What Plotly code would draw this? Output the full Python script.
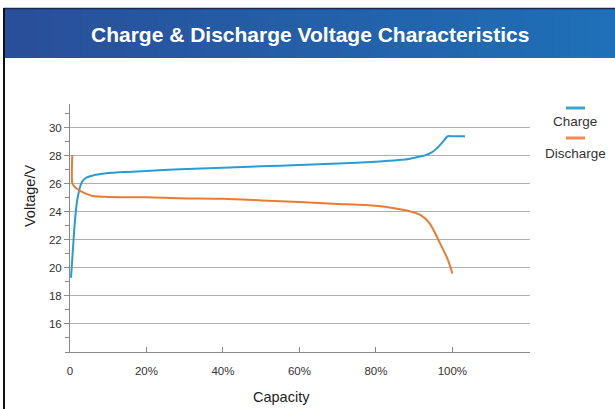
import plotly.graph_objects as go

# Data
charge_capacity = [0.26, 0.7, 1.3, 1.9, 3.0, 4.0, 6.0, 8.0, 10, 15, 20, 28.7, 40, 50, 60, 70, 80, 86, 89, 91.5, 93, 94.6, 96, 97.5, 98.8, 100, 103.3]
charge_voltage = [19.3, 21.07, 23.4, 24.86, 26.07, 26.4, 26.6, 26.7, 26.77, 26.85, 26.92, 27.05, 27.15, 27.25, 27.35, 27.45, 27.58, 27.7, 27.8, 27.95, 28.05, 28.24, 28.55, 29.0, 29.4, 29.4, 29.4]

discharge_capacity = [0.6, 0.6, 1.0, 2.0, 3.0, 4.5, 6.0, 9.0, 13, 20, 28.7, 40, 50, 60, 70, 80, 86, 89, 91.5, 94, 96.7, 98.8, 100]
discharge_voltage = [28.07, 26.07, 25.85, 25.62, 25.45, 25.27, 25.14, 25.08, 25.05, 25.05, 24.98, 24.93, 24.82, 24.7, 24.57, 24.43, 24.2, 24.03, 23.8, 23.2, 21.8, 20.6, 19.6]

x_tick_vals = [0, 20, 40, 60, 80, 100]
x_tick_text = ["0", "20%", "40%", "60%", "80%", "100%"]
y_tick_vals = [16, 18, 20, 22, 24, 26, 28, 30]

series_names = ["Charge", "Discharge"]
series_colors = ["#2b9bd4", "#e87b35"]
legend_colors = ["#3aa8c8", "#f08a50"]

FONT = "Liberation Sans, Arial, sans-serif"

fig = go.Figure()
fig.add_trace(go.Scatter(x=charge_capacity, y=charge_voltage, mode="lines",
                         name=series_names[0], line=dict(color=series_colors[0], width=2, shape="spline", smoothing=0.6)))
fig.add_trace(go.Scatter(x=discharge_capacity, y=discharge_voltage, mode="lines",
                         name=series_names[1], line=dict(color=series_colors[1], width=2, shape="spline", smoothing=0.8)))

W_PLOT = 460.0
H_PLOT = 248.0


def px(x):
    return (x - 70) / W_PLOT


def py(y):
    return (352 - y) / H_PLOT


fig.update_layout(
    width=615, height=409,
    margin=dict(l=70, r=85, t=104, b=57),
    paper_bgcolor="white", plot_bgcolor="white",
    showlegend=False,
    font=dict(family=FONT, color="#333333", size=11),
    xaxis=dict(range=[0, 120.3], tickvals=x_tick_vals, ticktext=x_tick_text,
               showgrid=False, zeroline=False, showline=True, linecolor="#8a8a8a", linewidth=1,
               ticks="inside", ticklen=5, tickcolor="#8a8a8a", ticklabelstandoff=8,
               tickfont=dict(size=11.5, color="#333333")),
    yaxis=dict(range=[14, 31.7], tickvals=y_tick_vals,
               showgrid=True, gridcolor="#b0b0b0", gridwidth=1, zeroline=False,
               showline=True, linecolor="#8a8a8a", linewidth=1,
               ticks="outside", ticklen=5, tickcolor="#8a8a8a",
               minor=dict(dtick=1, tick0=14, ticks="outside", ticklen=4, tickcolor="#8a8a8a", showgrid=False),
               tickfont=dict(size=11.5, color="#333333")),
)

# Header bar with gradient (drawn as several vertical strips)
n = 40
c0 = (0x2a, 0x4f, 0x9a)
c1 = (0x1f, 0x70, 0xb8)
x_left = 5
for i in range(n):
    t = i / (n - 1)
    col = tuple(int(c0[k] + (c1[k] - c0[k]) * t) for k in range(3))
    xa = x_left + i / n * (615 - x_left)
    xb = x_left + (i + 1) / n * (615 - x_left) + 1
    fig.add_shape(type="rect", xref="paper", yref="paper",
                  x0=px(xa), x1=px(xb), y0=py(58), y1=py(9),
                  fillcolor="rgb(%d,%d,%d)" % col, line=dict(width=0), layer="above")
# dark top line of header
fig.add_shape(type="line", xref="paper", yref="paper",
              x0=px(4), x1=px(615), y0=py(8.5), y1=py(8.5),
              line=dict(color="#1a2a50", width=1.5))
# left border
fig.add_shape(type="line", xref="paper", yref="paper",
              x0=px(4), x1=px(4), y0=py(409), y1=py(8),
              line=dict(color="#111111", width=2))

fig.add_annotation(text="<b>Charge & Discharge Voltage Characteristics</b>", xref="paper", yref="paper",
                   x=px(310), y=py(35), showarrow=False,
                   font=dict(family=FONT, size=21, color="white"), xanchor="center", yanchor="middle")

# Axis titles
fig.add_annotation(text="Capacity", xref="paper", yref="paper", x=px(281), y=py(397), showarrow=False,
                   font=dict(family=FONT, size=14.5, color="#222222"), xanchor="center", yanchor="middle")
fig.add_annotation(text="Voltage/V", xref="paper", yref="paper", x=px(30), y=py(196), showarrow=False,
                   textangle=-90, font=dict(family=FONT, size=14.5, color="#222222"),
                   xanchor="center", yanchor="middle")

# Custom legend: line above label
legend_y_line = [108, 138]
legend_y_text = [121, 153]
for name, col, yl, yt in zip(series_names, legend_colors, legend_y_line, legend_y_text):
    fig.add_shape(type="line", xref="paper", yref="paper",
                  x0=px(566), x1=px(585), y0=py(yl), y1=py(yl),
                  line=dict(color=col, width=3))
    fig.add_annotation(text=name, xref="paper", yref="paper",
                       x=px(575), y=py(yt), showarrow=False,
                       font=dict(family=FONT, size=13.5, color="#333333"), xanchor="center", yanchor="middle")

fig.write_html("out.html", config={"displayModeBar": False},
               post_script="document.body.style.margin='0';document.body.style.overflow='hidden';")
